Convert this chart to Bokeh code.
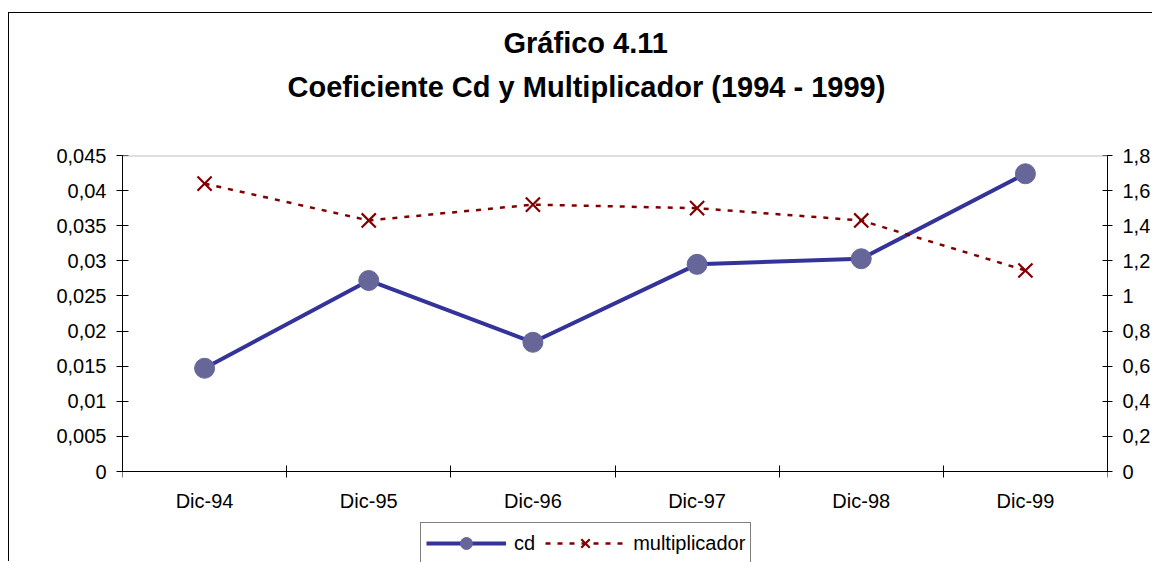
from bokeh.plotting import figure
from bokeh.models import (Range1d, LinearAxis, FixedTicker, SingleIntervalTicker, Span,
                          CustomJSTickFormatter, Legend, LegendItem, Title, ColumnDataSource)
from bokeh.embed import file_html
from bokeh.resources import INLINE

categories = ["Dic-94", "Dic-95", "Dic-96", "Dic-97", "Dic-98", "Dic-99"]
cd = [0.0147, 0.0272, 0.0184, 0.0295, 0.0303, 0.0424]
multiplicador = [1.64, 1.43, 1.52, 1.50, 1.43, 1.145]
title_line1 = "Gráfico 4.11"
title_line2 = "Coeficiente Cd y Multiplicador (1994 - 1999)"
left_max, left_step = 0.045, 0.005
right_max, right_step = 1.8, 0.2

FONT = "Liberation Sans"

# layout (pixels)
W, H = 1144, 549
FRAME_TOP, AXIS_PX = 142, 316          # frame top inside canvas, height of the 0..max axis
BELOW = H - FRAME_TOP - AXIS_PX        # room below the zero line (x labels + legend)
frac = BELOW / AXIS_PX

xs = [i + 0.5 for i in range(len(categories))]
bounds = list(range(len(categories) + 1))
src = ColumnDataSource(dict(x=xs, cd=cd, m=multiplicador, cat=categories))

p = figure(width=W, height=H, output_backend="svg", toolbar_location=None,
           x_range=Range1d(0, len(categories)),
           y_range=Range1d(-left_max * frac, left_max),
           min_border_left=113, min_border_right=43, min_border_top=FRAME_TOP,
           min_border_bottom=0, title=None)
p.styles = {"border-left": "1px solid #000", "border-top": "1px solid #000",
            "margin-top": "12px", "margin-left": "8px"}
p.extra_y_ranges = {"mult": Range1d(-right_max * frac, right_max)}
p.xgrid.grid_line_color = None
p.ygrid.grid_line_color = None
p.outline_line_color = None
p.background_fill_color = "white"
p.border_fill_color = "white"

# top border of the plot area
p.add_layout(Span(location=left_max, dimension="width", line_color="#c0c0c0", line_width=2))

# x axis at zero
xa = p.xaxis[0]
xa.fixed_location = 0
xa.ticker = FixedTicker(ticks=xs, minor_ticks=bounds)
xa.formatter = CustomJSTickFormatter(args=dict(labels=categories),
                                     code="return labels[Math.floor(tick)];")
xa.major_tick_in = 0
xa.major_tick_out = 0
xa.minor_tick_in = 6
xa.minor_tick_out = 6
xa.minor_tick_line_color = "black"
xa.axis_line_color = "black"
xa.major_label_standoff = 12
xa.major_label_text_font = FONT
xa.major_label_text_font_size = "20px"
xa.major_label_text_color = "black"

fmt_code = """
var s = tick.toFixed(%d);
s = s.replace(/0+$/, '').replace(/\\.$/, '');
return s.replace('.', ',');
"""

ya = p.yaxis[0]
ya.bounds = (0, left_max)
ya.ticker = SingleIntervalTicker(interval=left_step, num_minor_ticks=0)
ya.formatter = CustomJSTickFormatter(code=fmt_code % 3)
ya.major_tick_in = 6
ya.major_tick_out = 6
ya.minor_tick_in = 0
ya.minor_tick_out = 0
ya.axis_line_color = "black"
ya.major_tick_line_color = "black"
ya.major_label_standoff = 10
ya.major_label_text_font = FONT
ya.major_label_text_font_size = "20px"
ya.major_label_text_color = "black"

ra = LinearAxis(y_range_name="mult", bounds=(0, right_max),
                ticker=SingleIntervalTicker(interval=right_step, num_minor_ticks=0),
                formatter=CustomJSTickFormatter(code=fmt_code % 1))
ra.major_tick_in = 5
ra.major_tick_out = 5
ra.minor_tick_in = 0
ra.minor_tick_out = 0
ra.axis_line_color = "black"
ra.major_label_standoff = 10
ra.major_label_text_font = FONT
ra.major_label_text_font_size = "20px"
ra.major_label_text_color = "black"
p.add_layout(ra, "right")

# series
l_cd = p.line("x", "cd", source=src, line_color="#333399", line_width=4)
s_cd = p.scatter("x", "cd", source=src, marker="circle", size=20,
                 fill_color="#666699", line_color="#666699")
l_m = p.line("x", "m", source=src, y_range_name="mult", line_color="#800000",
             line_width=2.5, line_dash="5 7")
s_m = p.scatter("x", "m", source=src, y_range_name="mult", marker="x", size=20,
                line_color="#800000", line_width=2.2)

legend = Legend(items=[LegendItem(label="cd", renderers=[l_cd, s_cd]),
                       LegendItem(label="multiplicador", renderers=[l_m, s_m])],
                orientation="horizontal", location=(298, -2),
                border_line_color="black", border_line_width=1,
                glyph_width=80, glyph_height=30, label_height=24,
                label_text_font=FONT, label_text_font_size="20px", label_text_color="black",
                padding=5, spacing=10, label_standoff=8, margin=0,
                background_fill_alpha=1)
p.add_layout(legend, "center")

# title lines (stacked from the frame upward: spacer, line 2, line 1)
spacer = Title(text=" ", text_font_size="1px", standoff=45)
t2 = Title(text=title_line2, align="left", offset=165, text_font=FONT,
           text_font_size="29px", text_font_style="bold", text_color="black", standoff=10)
t1 = Title(text=title_line1, align="left", offset=381, text_font=FONT,
           text_font_size="29px", text_font_style="bold", text_color="black", standoff=10)
p.add_layout(spacer, "above")
p.add_layout(t2, "above")
p.add_layout(t1, "above")

open("out.html", "w").write(file_html(p, INLINE))
